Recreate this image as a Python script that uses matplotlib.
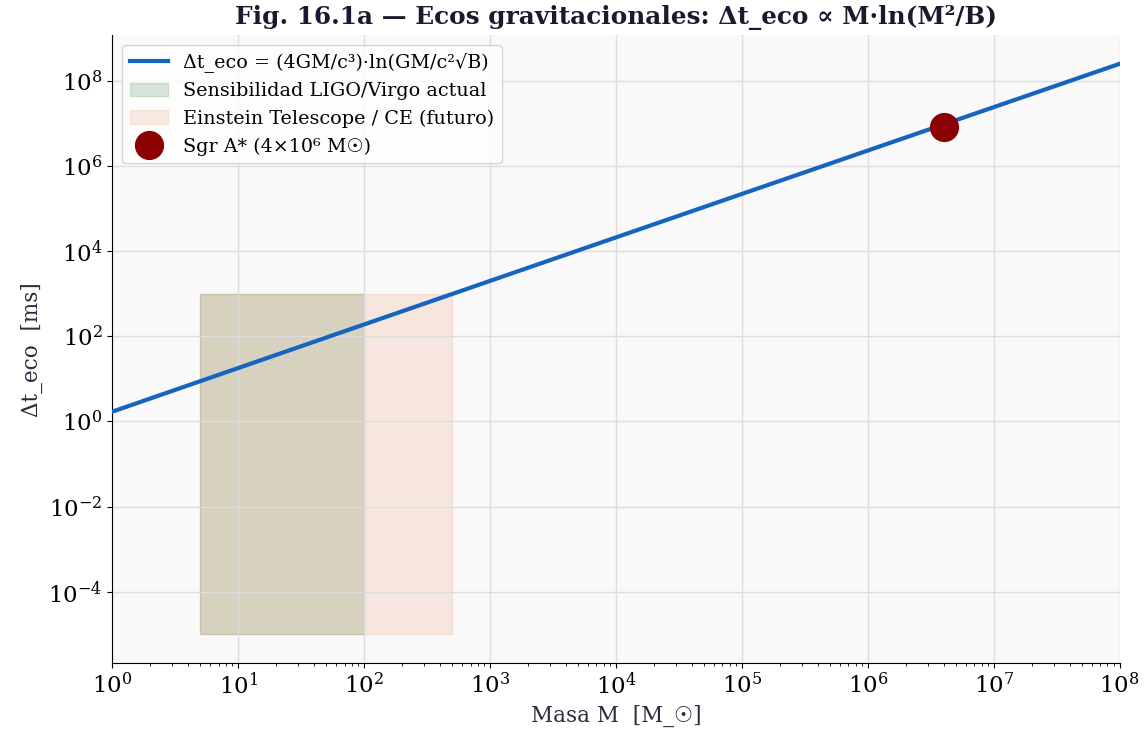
import matplotlib.pyplot as plt

plt.rcParams['font.family'] = ['DejaVu Serif', 'DejaVu Sans', 'Noto Sans']

# Echo delay vs mass, read at each decade (ms)
masses = [1, 10, 1e2, 1e3, 1e4, 1e5, 1e6, 1e7, 1e8]
delays = [1.7, 18, 190, 2.0e3, 2.1e4, 2.2e5, 2.3e6, 2.4e7, 2.5e8]

# Detector sensitivity windows: (M_min, M_max, t_min, t_max)
ligo_window = [5, 100, 1e-5, 1e3]
et_window = [5, 500, 1e-5, 1e3]

sgr_mass = [4e6]
sgr_delay = [8e6]

fig, ax = plt.subplots(figsize=(11.46, 7.35), dpi=100)
fig.subplots_adjust(left=0.098, right=0.977, top=0.952, bottom=0.098)
ax.set_facecolor('#f9f9f9')

ax.loglog(masses, delays, color='#1565C0', lw=3,
          label='Δt_eco = (4GM/c³)·ln(GM/c²√B)', zorder=3)

ax.fill_between(ligo_window[:2], ligo_window[2], ligo_window[3],
                color='#2e7d32', alpha=0.18, label='Sensibilidad LIGO/Virgo actual')
ax.fill_between(et_window[:2], et_window[2], et_window[3],
                color='#e8743b', alpha=0.14, label='Einstein Telescope / CE (futuro)')

ax.plot(sgr_mass, sgr_delay, 'o', color='darkred', markersize=20,
        label='Sgr A* (4×10⁶ M☉)', zorder=4)

ax.set_xlim(1, 1e8)
ax.set_xlabel('Masa M  [M_☉]', fontsize=15.5, color='#2b2b3b')
ax.set_ylabel('Δt_eco  [ms]', fontsize=15.5, color='#2b2b3b')
ax.set_title('Fig. 16.1a — Ecos gravitacionales: Δt_eco ∝ M·ln(M²/B)',
             fontsize=17.8, fontweight='bold', color='#1a1a2e', pad=8)
ax.tick_params(labelsize=16.5)
ax.grid(True, color='#dddddd', lw=1)
ax.spines['top'].set_visible(False)
ax.spines['right'].set_visible(False)
ax.legend(loc='upper left', fontsize=13.8)

plt.savefig('out.png')
